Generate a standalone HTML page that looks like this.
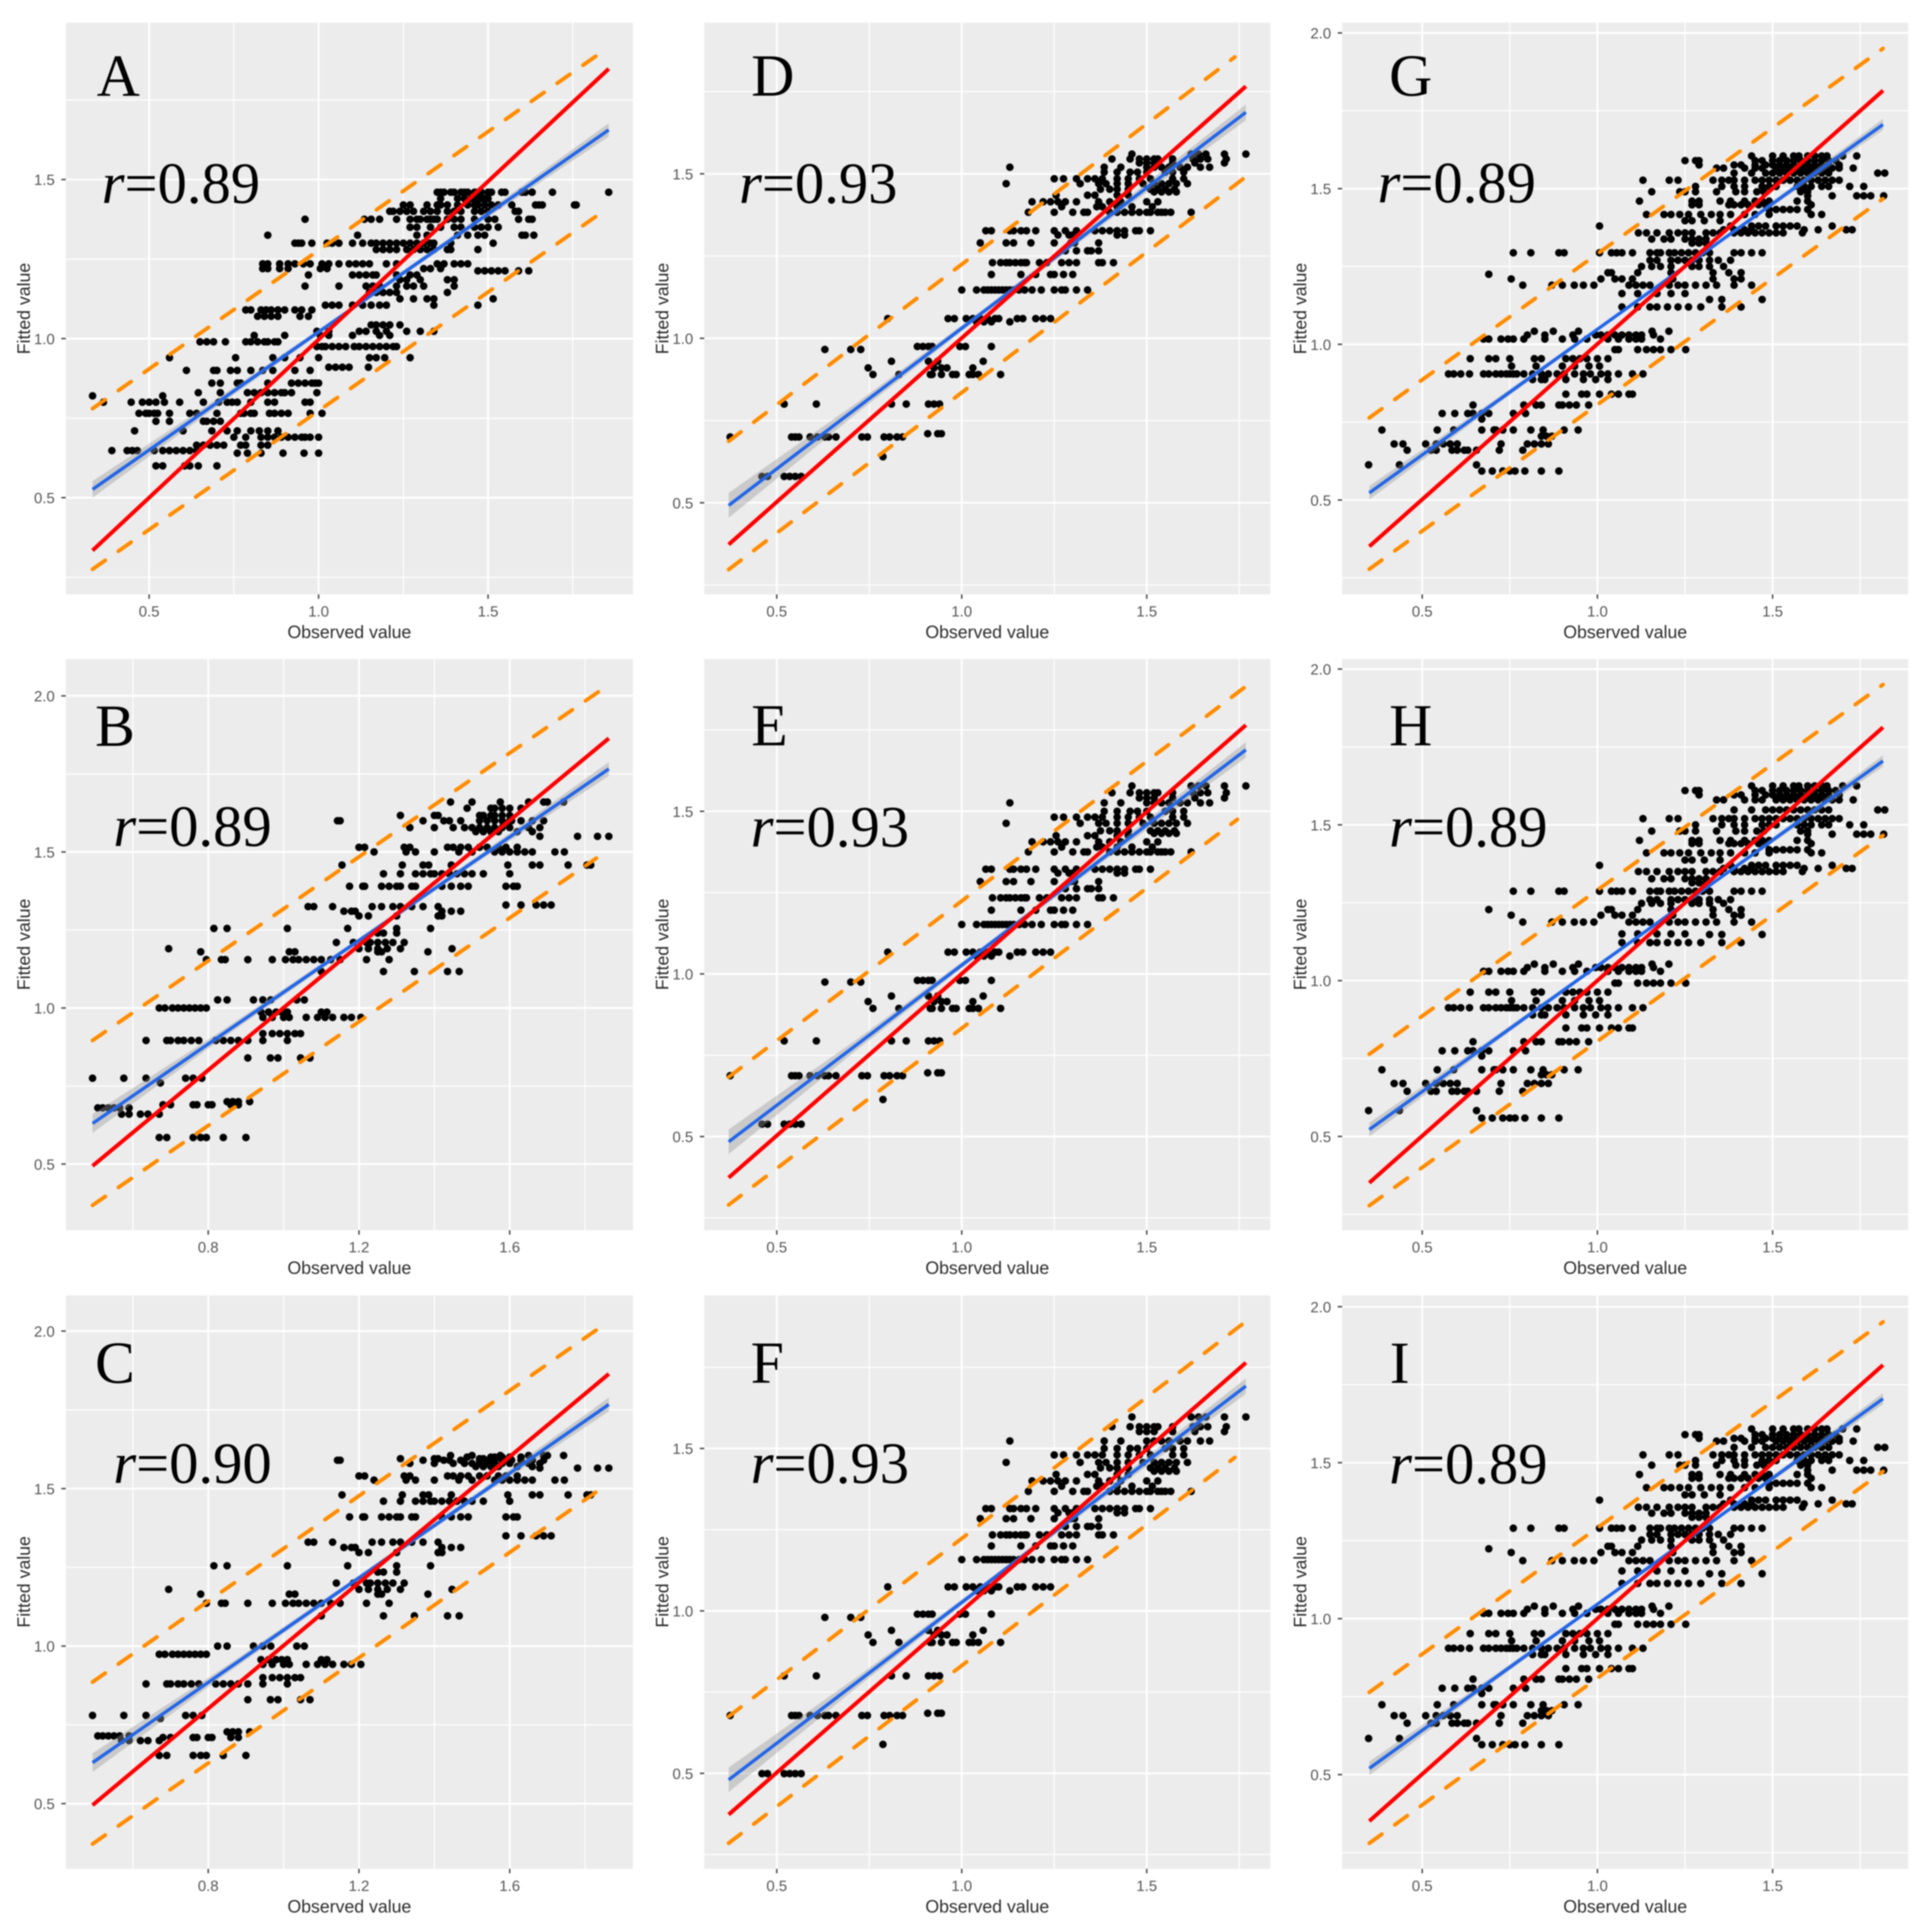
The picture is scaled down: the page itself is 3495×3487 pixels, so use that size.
<!DOCTYPE html>
<html lang="en">
<head>
<meta charset="utf-8">
<title>Observed versus fitted value scatter plots</title>
<style>
html,body{margin:0;padding:0;background:#fff;}
#figure{display:block;width:3495px;height:3487px;filter:blur(1px);}
.letter{font-family:"Liberation Serif",serif;font-size:108px;fill:#000;}
.rval{font-family:"Liberation Serif",serif;font-size:106px;fill:#000;}
.rval tspan{font-style:italic;}
.axis-title{font-family:"Liberation Sans",sans-serif;font-size:32px;fill:#2b2b2b;text-anchor:middle;}
.tick-label{font-family:"Liberation Sans",sans-serif;font-size:27px;fill:#555;}
</style>
</head>
<body>
<svg id="figure" xmlns="http://www.w3.org/2000/svg" width="3495" height="3487" viewBox="0 0 3495 3487">
<g><g id="plot-a"></g>
<text class="letter" x="175" y="173">A</text>
<text class="rval" x="184" y="367"><tspan>r</tspan>=0.89</text>
<text class="axis-title" x="632" y="1154">Observed value</text>
<text class="axis-title" x="54" y="558" transform="rotate(-90 54 558)">Fitted value</text></g>
<g><g id="plot-b"></g>
<text class="letter" x="172" y="1349">B</text>
<text class="rval" x="205" y="1530"><tspan>r</tspan>=0.89</text>
<text class="axis-title" x="632" y="2304">Observed value</text>
<text class="axis-title" x="54" y="1708" transform="rotate(-90 54 1708)">Fitted value</text></g>
<g><g id="plot-c"></g>
<text class="letter" x="172" y="2501">C</text>
<text class="rval" x="205" y="2682"><tspan>r</tspan>=0.90</text>
<text class="axis-title" x="632" y="3459">Observed value</text>
<text class="axis-title" x="54" y="2861" transform="rotate(-90 54 2861)">Fitted value</text></g>
<g><g id="plot-d"></g>
<text class="letter" x="1359" y="173">D</text>
<text class="rval" x="1337" y="367"><tspan>r</tspan>=0.93</text>
<text class="axis-title" x="1786" y="1154">Observed value</text>
<text class="axis-title" x="1209" y="558" transform="rotate(-90 1209 558)">Fitted value</text></g>
<g><g id="plot-e"></g>
<text class="letter" x="1359" y="1348">E</text>
<text class="rval" x="1358" y="1531"><tspan>r</tspan>=0.93</text>
<text class="axis-title" x="1786" y="2304">Observed value</text>
<text class="axis-title" x="1209" y="1708" transform="rotate(-90 1209 1708)">Fitted value</text></g>
<g><g id="plot-f"></g>
<text class="letter" x="1358" y="2501">F</text>
<text class="rval" x="1358" y="2682"><tspan>r</tspan>=0.93</text>
<text class="axis-title" x="1786" y="3459">Observed value</text>
<text class="axis-title" x="1209" y="2861" transform="rotate(-90 1209 2861)">Fitted value</text></g>
<g><g id="plot-g"></g>
<text class="letter" x="2513" y="173">G</text>
<text class="rval" x="2492" y="366"><tspan>r</tspan>=0.89</text>
<text class="axis-title" x="2940" y="1154">Observed value</text>
<text class="axis-title" x="2363" y="558" transform="rotate(-90 2363 558)">Fitted value</text></g>
<g><g id="plot-h"></g>
<text class="letter" x="2513" y="1348">H</text>
<text class="rval" x="2513" y="1531"><tspan>r</tspan>=0.89</text>
<text class="axis-title" x="2940" y="2304">Observed value</text>
<text class="axis-title" x="2363" y="1708" transform="rotate(-90 2363 1708)">Fitted value</text></g>
<g><g id="plot-i"></g>
<text class="letter" x="2514" y="2501">I</text>
<text class="rval" x="2513" y="2683"><tspan>r</tspan>=0.89</text>
<text class="axis-title" x="2940" y="3459">Observed value</text>
<text class="axis-title" x="2363" y="2861" transform="rotate(-90 2363 2861)">Fitted value</text></g>
</svg>
<script>
// ---- tick values ----
const xMajorStd=[0.5,1.0,1.5];
const xMinorStd=[0.75,1.25,1.75];
const xMajorBC=[0.8,1.2,1.6];
const xMinorBC=[0.6,1.0,1.4,1.8];
const yMajorShort=[0.5,1.0,1.5];
const yMajorLong=[0.5,1.0,1.5,2.0];
const yMinorAll=[0.25,0.75,1.25,1.75];

// ---- panel A points: fitted levels and observed values on each level ----
const fittedA=[1.46,1.44,1.42,1.40,1.375,1.35,1.325,1.30,1.28,1.235,1.22,1.213,1.20,1.185,1.165,1.145,1.125,1.105,1.09,1.07,1.043,1.023,1.01,0.99,0.975,0.94,0.91,0.90,0.86,0.83,0.82,0.80,0.765,0.74,0.71,0.69,0.665,0.648,0.64,0.60];
const observedA=[
[1.35,1.36,1.37,1.39,1.40,1.42,1.43,1.44,1.46,1.47,1.48,1.50,1.51,1.54,1.55,1.60,1.61,1.63,1.69,1.856],
[1.36,1.41,1.43,1.45,1.46,1.47,1.48,1.49,1.50],
[1.25,1.27,1.32,1.35,1.36,1.38,1.41,1.44,1.46,1.47,1.49,1.51,1.53,1.57,1.64,1.65,1.66,1.755,1.76],
[1.21,1.22,1.24,1.26,1.28,1.31,1.33,1.35,1.38,1.40,1.42,1.46,1.48,1.50,1.58,1.59],
[0.96,1.135,1.155,1.18,1.23,1.27,1.29,1.30,1.32,1.33,1.34,1.35,1.38,1.40,1.42,1.46,1.50,1.52,1.59,1.62,1.63],
[1.27,1.29,1.33,1.36,1.40,1.42,1.46,1.48,1.50,1.53],
[0.85,1.115,1.29,1.32,1.41,1.44,1.47,1.49,1.60,1.61,1.635],
[0.93,0.94,0.95,0.98,1.025,1.04,1.06,1.10,1.13,1.155,1.17,1.19,1.21,1.23,1.25,1.27,1.29,1.31,1.33,1.34,1.39,1.515],
[1.17,1.19,1.21,1.23,1.26,1.28,1.30,1.32,1.34,1.38,1.39,1.47],
[0.835,0.85,0.885,0.91,0.93,0.955,0.975,1.01,1.03,1.06,1.09,1.11,1.13,1.15,1.20,1.23,1.35,1.37,1.40,1.42,1.44],
[0.835,0.85,0.885,0.91,1.005,1.025,1.31,1.33,1.36],
[1.47,1.49,1.51,1.53,1.55,1.59,1.62],
[0.97,1.10,1.12,1.14,1.16,1.17,1.23,1.27,1.29],
[1.24,1.26,1.30,1.38,1.40],
[0.96,1.06,1.14,1.16,1.18,1.23,1.26,1.28,1.31,1.40],
[1.15,1.17,1.19,1.21,1.23,1.38],
[1.24,1.28,1.32,1.34,1.515],
[1.02,1.04,1.06,1.10,1.13,1.155,1.18,1.20,1.34,1.47],
[0.785,0.80,0.83,0.845,0.86,0.88,0.90,0.93,0.95,0.98],
[0.82,0.84,0.86,0.88,0.945,0.97],
[1.155,1.17,1.19,1.21,1.24],
[0.995,1.03,1.12,1.14,1.17,1.20,1.26,1.30,1.34],
[0.81,0.90,1.005,1.03,1.10,1.18,1.21],
[0.65,0.67,0.69,0.725,0.785,0.80,0.82,0.84,0.85,0.87,0.88],
[0.995,1.01,1.02,1.04,1.06,1.08,1.105,1.12,1.14,1.16,1.18,1.20,1.22,1.23],
[0.56,0.755,0.865,0.90,0.945,1.0,1.15,1.17,1.195,1.27],
[1.03,1.05,1.07,1.09,1.147],
[0.61,0.69,0.70,0.74,0.76,0.80,0.835,0.865,0.93,0.975],
[0.685,0.71,0.76,0.77,0.85,0.92,0.94,0.96,0.98,0.99,1.0],
[0.645,0.71,0.79,0.81,0.83,0.85,0.87,0.89,0.90,0.92,0.995],
[0.333,0.54],
[0.365,0.447,0.48,0.50,0.52,0.545,0.59,0.66,0.705,0.73,0.745,0.76,0.80,0.85,0.87,0.96,0.975],
[0.47,0.49,0.50,0.515,0.525,0.56,0.62,0.64,0.70,0.77,0.78,0.80,0.81,0.855,0.87,0.89,0.91,0.975,1.01],
[0.52,0.56,0.66,0.67,0.69,0.71],
[0.457,0.60,0.685,0.73,0.76,0.80,0.825,0.85,0.88],
[0.75,0.785,0.83,0.85,0.87,0.89,0.91,0.93,0.95,0.96,0.975,1.0],
[0.64,0.66,0.68,0.70,0.72,0.77,0.785,0.83,0.85],
[0.39,0.435,0.45,0.465,0.515,0.54,0.56,0.58,0.60,0.62,0.64],
[0.76,0.79,0.83,0.895,0.957,1.0],
[0.52,0.54,0.605,0.62,0.645,0.70]
];
const redA=[0.333,0.334,1.856,1.848];
const blueA=[0.333,0.526,1.856,1.656];
const upperA=[0.333,0.78,1.84,1.904];
const lowerA=[0.333,0.275,1.84,1.40];
const ribbonA=[0.026,0.012,0.007,0.010,0.021];

// ---- panels B and C share observed values, fitted levels differ ----
const fittedB=[1.66,1.64,1.617,1.60,1.578,1.565,1.55,1.515,1.50,1.458,1.43,1.39,1.33,1.325,1.31,1.295,1.255,1.24,1.21,1.19,1.18,1.155,1.117,1.026,1.0,0.987,0.97,0.918,0.896,0.84,0.775,0.76,0.70,0.69,0.68,0.66,0.585];
const fittedC=[1.605,1.60,1.595,1.59,1.58,1.57,1.565,1.54,1.527,1.48,1.46,1.41,1.35,1.33,1.313,1.297,1.255,1.235,1.20,1.18,1.165,1.136,1.096,1.0,0.974,0.957,0.942,0.90,0.88,0.83,0.78,0.77,0.728,0.71,0.715,0.70,0.653];
const observedBC=[
[1.443,1.50,1.575,1.65,1.69,1.70,1.743],
[1.487,1.55,1.56,1.58,1.60,1.63],
[1.31,1.40,1.41,1.52,1.53,1.55,1.56,1.58,1.60],
[1.143,1.15,1.37,1.425,1.44,1.47,1.52,1.54,1.56,1.58,1.60,1.605,1.63,1.66,1.69],
[1.335,1.40,1.45,1.48,1.50,1.52,1.54,1.56,1.58,1.60,1.65,1.68],
[1.51,1.53,1.55,1.57,1.62,1.66],
[1.68,1.78,1.833,1.863],
[1.20,1.215,1.32,1.335,1.435,1.45,1.47,1.49,1.52,1.54,1.57,1.59,1.62],
[1.24,1.325,1.35,1.40,1.465,1.50,1.56,1.58,1.60,1.62,1.64,1.66,1.72,1.745],
[1.155,1.315,1.37,1.385,1.445,1.595,1.66,1.68,1.755,1.805,1.815],
[1.265,1.31,1.35,1.37,1.39,1.40,1.42,1.44,1.46,1.48,1.50,1.53,1.60],
[1.175,1.21,1.215,1.26,1.28,1.30,1.31,1.34,1.35,1.42,1.445,1.47,1.49,1.59,1.61,1.62],
[1.59,1.63,1.67,1.69,1.71],
[1.065,1.08,1.13,1.235,1.26,1.29,1.31,1.34,1.37,1.41],
[1.16,1.18,1.19,1.42,1.445,1.47],
[1.20,1.225,1.30,1.41,1.42],
[0.815,0.85,1.01,1.17,1.30,1.39],
[1.25,1.265,1.30],
[1.14,1.185,1.22,1.23,1.25,1.27,1.29,1.32],
[0.695,1.20,1.225,1.25,1.275,1.31,1.447],
[0.78,1.015,1.03,1.25,1.26,1.383],
[0.795,0.835,0.845,0.905,0.97,1.005,1.025,1.04,1.06,1.08,1.10,1.125,1.15,1.22,1.28],
[1.10,1.265,1.347,1.435,1.466],
[0.825,0.85,0.92,0.945,0.966,1.035,1.055],
[0.67,0.685,0.705,0.72,0.735,0.75,0.765,0.78,0.795],
[0.94,0.96,0.98,0.995,1.01,1.10,1.115],
[0.945,0.97,1.0,1.015,1.06,1.09,1.11,1.13,1.16,1.18,1.205],
[0.945,0.97,0.99,1.01,1.03,1.045],
[0.635,0.69,0.70,0.72,0.735,0.755,0.775,0.82,0.84,0.86,0.88,0.905,0.945,1.01],
[0.905,0.965,0.985,1.045,1.07],
[0.493,0.576,0.635,0.74,0.76,0.783],
[0.673],
[0.85,0.865,0.88,0.91],
[0.68,0.70,0.76,0.77,0.80,0.81,0.86,0.88],
[0.507,0.52,0.535,0.55,0.565,0.59],
[0.57,0.59,0.62,0.64,0.67],
[0.67,0.69,0.76,0.78,0.795,0.84,0.90]
];
const redB=[0.493,0.494,1.863,1.864];
const blueB=[0.493,0.63,1.863,1.766];
const upperB=[0.493,0.896,1.844,2.02];
const lowerB=[0.493,0.368,1.83,1.48];
const ribbonB=[0.030,0.013,0.008,0.010,0.022];
const redC=[0.493,0.495,1.863,1.864];
const blueC=[0.493,0.63,1.863,1.767];
const upperC=[0.493,0.886,1.833,2.006];
const lowerC=[0.493,0.372,1.828,1.488];
const ribbonC=[0.030,0.013,0.008,0.010,0.022];

// ---- panels D, E and F share observed values, fitted levels differ ----
const fittedD=[1.56,1.545,1.533,1.52,1.505,1.485,1.47,1.453,1.445,1.435,1.415,1.40,1.383,1.327,1.314,1.29,1.266,1.23,1.194,1.147,1.06,1.05,0.975,0.966,0.93,0.91,0.89,0.80,0.71,0.70,0.64,0.58];
const fittedE=[1.578,1.557,1.541,1.526,1.50,1.482,1.463,1.44,1.432,1.425,1.406,1.39,1.375,1.322,1.31,1.284,1.262,1.234,1.196,1.152,1.067,1.055,0.98,0.975,0.932,0.915,0.894,0.794,0.696,0.687,0.614,0.538];
const fittedF=[1.597,1.567,1.552,1.523,1.50,1.48,1.457,1.44,1.43,1.42,1.40,1.384,1.368,1.315,1.302,1.284,1.26,1.234,1.20,1.158,1.074,1.062,0.99,0.98,0.94,0.926,0.903,0.80,0.685,0.678,0.589,0.499];
const observedDEF=[
[1.46,1.62,1.64,1.66,1.71,1.768],
[1.406,1.455,1.48,1.50,1.52,1.53,1.57,1.625,1.645,1.665,1.715],
[1.48,1.50,1.52,1.57,1.63,1.71],
[1.13,1.385,1.43,1.50,1.52,1.54,1.56,1.59,1.61,1.645,1.67],
[1.385,1.42,1.455,1.475,1.50,1.55,1.57,1.60],
[1.25,1.275,1.31,1.34,1.36,1.38,1.42,1.45,1.48,1.51,1.57,1.60],
[1.12,1.32,1.37,1.39,1.42,1.45,1.49,1.52,1.54,1.56,1.58,1.61],
[1.375,1.40,1.42,1.45,1.51,1.53,1.55,1.575],
[1.52,1.54,1.56,1.58],
[1.255,1.34,1.36,1.42,1.45],
[1.19,1.22,1.24,1.26,1.28,1.31,1.37,1.40,1.43,1.50,1.53],
[1.27,1.365,1.38,1.42,1.46,1.515],
[1.18,1.25,1.30,1.33,1.34,1.40,1.42,1.44,1.46,1.48,1.50,1.51,1.53,1.54,1.55,1.565,1.62],
[1.065,1.08,1.13,1.14,1.16,1.175,1.20,1.25,1.28,1.31,1.36,1.38,1.40,1.42,1.44,1.47,1.48,1.51],
[1.26,1.29,1.30,1.42,1.44],
[1.05,1.12,1.14,1.187,1.25,1.295,1.305,1.37],
[1.28,1.31,1.34,1.35,1.37],
[1.083,1.105,1.12,1.13,1.145,1.16,1.17,1.175,1.21,1.23,1.27,1.29,1.31,1.37,1.38,1.41],
[1.08,1.16,1.20,1.24,1.25,1.275,1.30],
[1.0,1.04,1.06,1.07,1.08,1.09,1.10,1.11,1.12,1.13,1.14,1.155,1.17,1.19,1.215,1.25,1.27,1.28,1.31,1.34],
[0.80,0.963,0.98,1.012,1.03,1.05,1.07,1.09,1.10,1.15,1.165,1.20,1.22,1.24],
[1.04,1.06,1.08,1.13],
[0.88,0.895,0.91,0.92,0.995,1.01,1.08],
[0.63,0.70,0.727],
[0.81,0.91,0.935,1.058],
[0.747,0.925,0.945,0.96,1.03],
[0.76,0.83,0.915,0.92,0.945,0.975,0.985,1.02,1.03,1.045,1.105],
[0.52,0.607,0.81,0.85,0.91,0.925,0.94],
[0.908,0.935,0.945],
[0.374,0.54,0.55,0.56,0.59,0.61,0.63,0.64,0.66,0.73,0.745,0.79,0.805,0.825,0.84],
[0.787],
[0.46,0.475,0.52,0.535,0.55,0.566]
];
const redD=[0.37,0.373,1.768,1.766];
const blueD=[0.37,0.492,1.768,1.687];
const upperD=[0.37,0.687,1.738,1.855];
const lowerD=[0.37,0.297,1.768,1.491];
const ribbonD=[0.038,0.016,0.008,0.012,0.024];
const redE=[0.37,0.3736,1.768,1.765];
const blueE=[0.37,0.484,1.768,1.689];
const upperE=[0.37,0.683,1.768,1.884];
const lowerE=[0.37,0.29,1.745,1.475];
const ribbonE=[0.038,0.016,0.008,0.012,0.024];
const redF=[0.37,0.373,1.768,1.764];
const blueF=[0.37,0.48,1.768,1.692];
const upperF=[0.37,0.675,1.768,1.891];
const lowerF=[0.37,0.285,1.738,1.472];
const ribbonF=[0.038,0.016,0.008,0.012,0.024];

// ---- panels G, H and I share observed values, fitted levels differ ----
const fittedG=[1.605,1.59,1.576,1.566,1.55,1.527,1.507,1.49,1.477,1.46,1.448,1.433,1.417,1.397,1.38,1.368,1.358,1.338,1.325,1.294,1.27,1.25,1.23,1.225,1.21,1.19,1.163,1.144,1.12,1.042,1.03,1.017,0.983,0.954,0.93,0.905,0.887,0.84,0.805,0.778,0.76,0.725,0.705,0.68,0.66,0.613,0.593];
const fittedH=[1.625,1.61,1.596,1.58,1.548,1.52,1.50,1.48,1.47,1.45,1.44,1.42,1.41,1.387,1.37,1.36,1.35,1.327,1.314,1.287,1.26,1.248,1.228,1.228,1.21,1.188,1.15,1.148,1.122,1.053,1.042,1.03,0.992,0.963,0.936,0.913,0.89,0.848,0.804,0.775,0.758,0.714,0.698,0.67,0.645,0.583,0.559];
const fittedI=[1.608,1.59,1.578,1.569,1.549,1.525,1.507,1.492,1.476,1.462,1.45,1.434,1.42,1.397,1.38,1.368,1.357,1.338,1.325,1.29,1.27,1.252,1.232,1.224,1.212,1.186,1.153,1.144,1.113,1.04,1.03,1.017,0.982,0.952,0.929,0.905,0.885,0.84,0.806,0.777,0.76,0.724,0.705,0.689,0.665,0.616,0.596];
const observedGHI=[
[1.44,1.50,1.53,1.56,1.575,1.60,1.62,1.64,1.655,1.70,1.74],
[1.25,1.28,1.29,1.45,1.47,1.50,1.52,1.54,1.56,1.58,1.60,1.62,1.64,1.66,1.68],
[1.29,1.39,1.41,1.45,1.48,1.50,1.52,1.54,1.56,1.58,1.60,1.62,1.64,1.66,1.69],
[1.34,1.36,1.42,1.45,1.47,1.51,1.53,1.55,1.57,1.59,1.61,1.63,1.65,1.67,1.69,1.73],
[1.39,1.44,1.48,1.50,1.52,1.54,1.56,1.58,1.60,1.62,1.64,1.66,1.80,1.82],
[1.13,1.205,1.23,1.33,1.355,1.375,1.39,1.42,1.45,1.47,1.49,1.51,1.53,1.55,1.57,1.59,1.61,1.63,1.65,1.67,1.69],
[1.28,1.355,1.39,1.42,1.47,1.49,1.51,1.57,1.59,1.61,1.64,1.66,1.72,1.76],
[1.155,1.235,1.25,1.28,1.34,1.395,1.42,1.455,1.475,1.58,1.60],
[1.60,1.67,1.74,1.76,1.78,1.817],
[1.12,1.27,1.29,1.35,1.38,1.42,1.45,1.47,1.49,1.57,1.60],
[1.27,1.29,1.375,1.39,1.41,1.43,1.46,1.48,1.61],
[1.49,1.51,1.53,1.55,1.57,1.60],
[1.14,1.19,1.21,1.235,1.26,1.295,1.325,1.35,1.38,1.42,1.45,1.49,1.61,1.64],
[1.25,1.27,1.305,1.35],
[1.006,1.38,1.44,1.46,1.48,1.51,1.53,1.55,1.57,1.67],
[1.71,1.727,1.36,1.39,1.42,1.44,1.59,1.63],
[1.117,1.14,1.17,1.205,1.23,1.25,1.27,1.31,1.33,1.35,1.39,1.41,1.43,1.45,1.47,1.49,1.51,1.53,1.585],
[1.155,1.19,1.21,1.25,1.27,1.29,1.31],
[1.27,1.29,1.31],
[0.76,0.81,0.89,0.905,1.006,1.04,1.055,1.07,1.10,1.15,1.17,1.18,1.205,1.22,1.24,1.26,1.28,1.30,1.32,1.39,1.41,1.44,1.47],
[1.15,1.17,1.21,1.23,1.25,1.27,1.29,1.32,1.345,1.38],
[1.126,1.155,1.18,1.21,1.27,1.29,1.32,1.36],
[1.03,1.04,1.115,1.21,1.33,1.375,1.41],
[0.69],
[0.754,1.01,1.05,1.07,1.10,1.215,1.33,1.39,1.41],
[0.787,0.87,0.90,0.934,0.96,0.99,1.09,1.11,1.13,1.15,1.205,1.23,1.25,1.28,1.31,1.34,1.39,1.44],
[1.07,1.115,1.17,1.21,1.25],
[1.32,1.355,1.47],
[1.07,1.115,1.15,1.17,1.2,1.23,1.26,1.295,1.355,1.41],
[0.82,0.874,0.946,1.156,1.204],
[0.80,0.85,0.93,0.995,1.01,1.03,1.05,1.07,1.09,1.11,1.126,1.16],
[0.675,0.69,0.725,0.745,0.76,0.79,0.85,0.90,0.935,0.97,1.03,1.06,1.09,1.11,1.126,1.18],
[1.05,1.06,1.115,1.14,1.16,1.18,1.21,1.252],
[0.637,0.69,0.71,0.75,0.82,0.84,0.91,0.93,0.95,0.97,1.0,1.03],
[0.755,0.825,0.90,0.935,0.976,1.006],
[0.575,0.59,0.61,0.635,0.675,0.69,0.71,0.725,0.74,0.75,0.76,0.77,0.79,0.815,0.84,0.86,0.885,0.905,0.935,0.96,0.98,1.01,1.03,1.06,1.10,1.13],
[0.815,0.84,0.85,0.91,0.96,0.995,1.03],
[0.91,0.955,0.97,1.006,1.04,1.06,1.09,1.10],
[0.645,0.79,0.825,0.84,0.89,0.90,0.92,0.94,0.975],
[0.557,0.593,0.63,0.645,0.67,0.69,0.76,0.795],
[0.67],
[0.385,0.543,0.59,0.67,0.705,0.71,0.73,0.76,0.81,0.845,0.905,0.945],
[0.84,0.855,0.87],
[0.42,0.445,0.51,0.54,0.56,0.58,0.60,0.725,0.80,0.82,0.84,0.86],
[0.457,0.525,0.54,0.585,0.60,0.62,0.63,0.655,0.72,0.787],
[0.347,0.435,0.655],
[0.67,0.70,0.73,0.75,0.765,0.793,0.84,0.89]
];
const redG=[0.349,0.351,1.815,1.815];
const blueG=[0.349,0.523,1.815,1.706];
const upperG=[0.349,0.764,1.815,1.95];
const lowerG=[0.349,0.278,1.815,1.4675];
const ribbonG=[0.022,0.010,0.005,0.007,0.018];
const redH=[0.349,0.351,1.815,1.813];
const blueH=[0.349,0.522,1.815,1.705];
const upperH=[0.349,0.764,1.815,1.95];
const lowerH=[0.349,0.278,1.815,1.466];
const ribbonH=[0.022,0.010,0.005,0.007,0.018];
const redI=[0.349,0.351,1.815,1.813];
const blueI=[0.349,0.52,1.815,1.705];
const upperI=[0.349,0.764,1.815,1.951];
const lowerI=[0.349,0.28,1.815,1.472];
const ribbonI=[0.022,0.010,0.005,0.007,0.018];

// ---- layout and axis limits ----
const NS='http://www.w3.org/2000/svg';
const colLeft=[119,1274,2428];
const colRight=[1145,2298,3452];
const rowTop=[41,1192,2343];
const rowBottom=[1075,2225,3380];

function shape(parent,tag,attrs){
  const el=document.createElementNS(NS,tag);
  for(const k in attrs){el.setAttribute(k,attrs[k]);}
  parent.appendChild(el);
  return el;
}

function drawPanel(id,col,row,xDom,yDom,xMajor,xMinor,yMajor,observed,fitted,red,blue,upper,lower,ribbon){
  const L=colLeft[col],R=colRight[col],T=rowTop[row],B=rowBottom[row];
  const sx=v=>L+(v-xDom[0])/(xDom[1]-xDom[0])*(R-L);
  const sy=v=>B-(v-yDom[0])/(yDom[1]-yDom[0])*(B-T);
  const g=document.getElementById('plot-'+id);

  const bg=shape(g,'rect',{x:L,y:T,width:R-L,height:B-T,fill:'#ECECEC'});
  
  

  yMinorAll.filter(v=>v>yDom[0]&&v<yDom[1]).forEach(v=>{
    const ln=shape(g,'line',{x1:L,x2:R,y1:sy(v),y2:sy(v),stroke:'#fff','stroke-width':2});
    
    
  });
  xMinor.filter(v=>v>xDom[0]&&v<xDom[1]).forEach(v=>{
    const ln=shape(g,'line',{x1:sx(v),x2:sx(v),y1:T,y2:B,stroke:'#fff','stroke-width':2});
    
    
  });
  yMajor.forEach(v=>{
    const ln=shape(g,'line',{x1:L,x2:R,y1:sy(v),y2:sy(v),stroke:'#fff','stroke-width':3.4});
    
    
    const tk=shape(g,'line',{x1:L-8,x2:L,y1:sy(v),y2:sy(v),stroke:'#444','stroke-width':2.6});
    
    
    const t=shape(g,'text',{x:L-20,y:sy(v)+10,'text-anchor':'end','class':'tick-label'});
    t.textContent=v.toFixed(1);
    
    
  });
  xMajor.forEach(v=>{
    const ln=shape(g,'line',{x1:sx(v),x2:sx(v),y1:T,y2:B,stroke:'#fff','stroke-width':3.4});
    
    
    const tk=shape(g,'line',{x1:sx(v),x2:sx(v),y1:B,y2:B+8,stroke:'#444','stroke-width':2.6});
    
    
    const t=shape(g,'text',{x:sx(v),y:B+40,'text-anchor':'middle','class':'tick-label'});
    t.textContent=v.toFixed(1);
    
    
  });

  fitted.forEach((yv,i)=>{
    observed[i].forEach(xv=>{
      const c=shape(g,'circle',{cx:sx(xv),cy:sy(yv),r:6.8,fill:'#000'});
      
      
    });
  });

  const blueAt=x=>blue[1]+(x-blue[0])/(blue[2]-blue[0])*(blue[3]-blue[1]);
  const ribbonX=ribbon.map((_,i)=>blue[0]+(blue[2]-blue[0])*i/(ribbon.length-1));
  const top=ribbonX.map((x,i)=>sx(x)+','+sy(blueAt(x)+ribbon[i]));
  const bot=ribbonX.map((x,i)=>sx(x)+','+sy(blueAt(x)-ribbon[i])).reverse();
  const rb=shape(g,'polygon',{points:top.concat(bot).join(' '),fill:'#999','fill-opacity':0.4});
  
  

  const bl=shape(g,'line',{x1:sx(blue[0]),y1:sy(blue[1]),x2:sx(blue[2]),y2:sy(blue[3]),stroke:'#2366E8','stroke-width':6});
  
  

  const rd=shape(g,'line',{x1:sx(red[0]),y1:sy(red[1]),x2:sx(red[2]),y2:sy(red[3]),stroke:'#F00','stroke-width':7.2});
  
  

  const up=shape(g,'line',{x1:sx(upper[0]),y1:sy(upper[1]),x2:sx(upper[2]),y2:sy(upper[3]),stroke:'#FF8C00','stroke-width':7,'stroke-dasharray':'28 29','stroke-linecap':'round'});
  
  

  const lo=shape(g,'line',{x1:sx(lower[0]),y1:sy(lower[1]),x2:sx(lower[2]),y2:sy(lower[3]),stroke:'#FF8C00','stroke-width':7,'stroke-dasharray':'28 29','stroke-linecap':'round'});
  
  
}

drawPanel('a',0,0,[0.254,1.9275],[0.196,1.993],xMajorStd,xMinorStd,yMajorShort,observedA,fittedA,redA,blueA,upperA,lowerA,ribbonA);
drawPanel('b',0,1,[0.422,1.927],[0.288,2.118],xMajorBC,xMinorBC,yMajorLong,observedBC,fittedB,redB,blueB,upperB,lowerB,ribbonB);
drawPanel('c',0,2,[0.422,1.927],[0.293,2.113],xMajorBC,xMinorBC,yMajorLong,observedBC,fittedC,redC,blueC,upperC,lowerC,ribbonC);
drawPanel('d',1,0,[0.304,1.834],[0.2215,1.9595],xMajorStd,xMinorStd,yMajorShort,observedDEF,fittedD,redD,blueD,upperD,lowerD,ribbonD);
drawPanel('e',1,1,[0.304,1.834],[0.212,1.968],xMajorStd,xMinorStd,yMajorShort,observedDEF,fittedE,redE,blueE,upperE,lowerE,ribbonE);
drawPanel('f',1,2,[0.304,1.834],[0.206,1.971],xMajorStd,xMinorStd,yMajorShort,observedDEF,fittedF,redF,blueF,upperF,lowerF,ribbonF);
drawPanel('g',2,0,[0.2716,1.887],[0.197,2.033],xMajorStd,xMinorStd,yMajorLong,observedGHI,fittedG,redG,blueG,upperG,lowerG,ribbonG);
drawPanel('h',2,1,[0.2716,1.887],[0.199,2.032],xMajorStd,xMinorStd,yMajorLong,observedGHI,fittedH,redH,blueH,upperH,lowerH,ribbonH);
drawPanel('i',2,2,[0.2716,1.887],[0.198,2.036],xMajorStd,xMinorStd,yMajorLong,observedGHI,fittedI,redI,blueI,upperI,lowerI,ribbonI);
</script>
</body>
</html>
